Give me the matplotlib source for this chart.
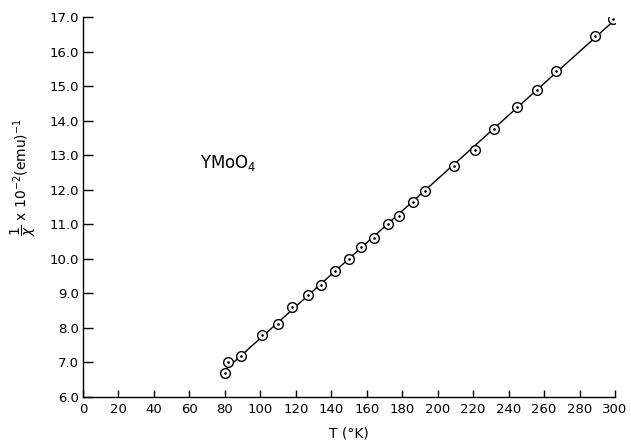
import numpy as np
import matplotlib.pyplot as plt

# YMoO4, inverse susceptibility vs temperature
temp_K = [80, 82, 89, 101, 110, 118, 127, 134, 142, 150, 157, 164,
          172, 178, 186, 193, 209, 221, 232, 245, 256, 267, 289, 299]
inv_chi = [6.7, 7.0, 7.2, 7.8, 8.1, 8.6, 8.95, 9.25, 9.65, 10.0, 10.35, 10.6,
           11.0, 11.25, 11.65, 11.95, 12.7, 13.15, 13.75, 14.4, 14.9, 15.45, 16.45, 16.95]

x_ticks = list(range(0, 301, 20))
y_ticks = [6.0, 7.0, 8.0, 9.0, 10.0, 11.0, 12.0, 13.0, 14.0, 15.0, 16.0, 17.0]

plt.rcParams['font.family'] = ['DejaVu Sans']

fig = plt.figure(figsize=(6.31, 4.43), dpi=100)
ax = fig.add_axes([0.1315, 0.1038, 0.8431, 0.8578])

# straight line fit through the points
k, b = np.polyfit(temp_K, inv_chi, 1)
tt = np.array([min(temp_K), max(temp_K)])
ax.plot(tt, k * tt + b, color='black', lw=1.0, zorder=2)

ax.plot(temp_K, inv_chi, linestyle='none', marker='o', markersize=7,
        markerfacecolor='white', markeredgecolor='black', markeredgewidth=1.0, zorder=3)
ax.plot(temp_K, inv_chi, linestyle='none', marker='.', markersize=1.8,
        color='black', zorder=4)

ax.set_xlim(0, 300)
ax.set_ylim(6.0, 17.0)
ax.set_xticks(x_ticks)
ax.set_yticks(y_ticks)
ax.set_yticklabels(['%.1f' % v for v in y_ticks])
ax.tick_params(axis='y', direction='in', length=7, width=1, labelsize=9.5, pad=3)
ax.tick_params(axis='x', direction='in', length=5, width=1, labelsize=9.5, pad=4)

for s in ['top', 'right']:
    ax.spines[s].set_visible(False)
for s in ['left', 'bottom']:
    ax.spines[s].set_linewidth(1.0)

ax.text(66, 12.77, r'YMoO$_4$', fontsize=12, va='center', ha='left')

ax.set_xlabel(u'T (\u00b0K)', fontsize=10, labelpad=8)
ax.set_ylabel(r'$\dfrac{1}{\chi}$ x 10$^{-2}$(emu)$^{-1}$', fontsize=10, labelpad=8)
ax.yaxis.set_label_coords(-0.085, 0.58)

fig.savefig('out.png', dpi=100)
